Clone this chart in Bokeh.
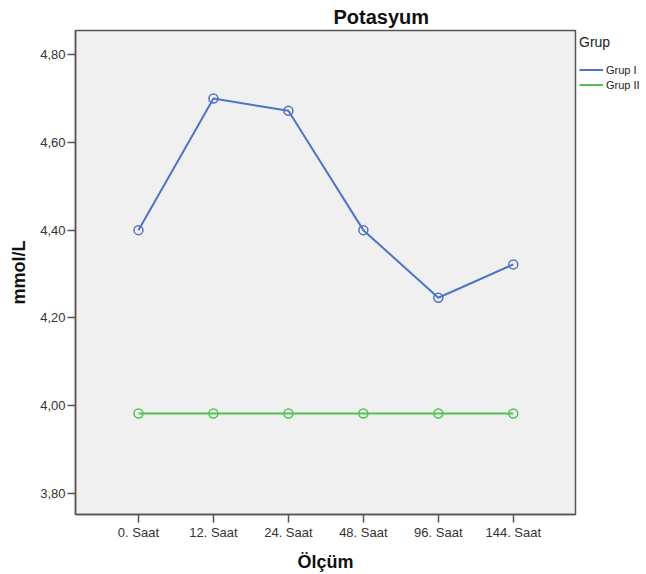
from bokeh.plotting import figure
from bokeh.models import (Range1d, FixedTicker, CustomJSTickFormatter, Legend, LegendItem,
                          ColumnDataSource)
from bokeh.embed import file_html
from bokeh.resources import INLINE

categories = ["0. Saat", "12. Saat", "24. Saat", "48. Saat", "96. Saat", "144. Saat"]
grup1 = [4.40, 4.70, 4.672, 4.40, 4.246, 4.322]
grup2 = [3.982, 3.982, 3.982, 3.982, 3.982, 3.982]
y_ticks = [3.80, 4.00, 4.20, 4.40, 4.60, 4.80]
series_names = ["Grup I", "Grup II"]
colors = ["#4f74c4", "#52c252"]

xs = list(range(len(categories)))
FONT = "Liberation Sans"

p = figure(frame_width=500, frame_height=484, output_backend="svg", toolbar_location=None,
           x_range=Range1d(-0.84, 5.83), y_range=Range1d(3.752, 4.855),
           min_border_left=75, min_border_top=30, min_border_bottom=58, min_border_right=0,
           title="Potasyum")
p.title.align = "left"
p.title.offset = 258
p.title.standoff = 6
p.title.text_font = FONT
p.title.text_font_size = "20px"
p.title.text_font_style = "bold"
p.title.text_color = "#111111"

p.background_fill_color = "#f0f0f0"
p.border_fill_color = "white"
p.outline_line_color = "#555555"
p.outline_line_width = 1.5
p.xgrid.visible = False
p.ygrid.visible = False

# x axis
p.xaxis.ticker = FixedTicker(ticks=xs)
p.xaxis.major_label_overrides = {i: c for i, c in enumerate(categories)}
p.xaxis.minor_tick_line_color = None
p.xaxis.major_tick_out = 8
p.xaxis.major_tick_in = 0
p.xaxis.major_label_standoff = 2
p.xaxis.axis_label = "Ölçüm"
p.xaxis.axis_label_standoff = 9
# y axis
p.yaxis.ticker = FixedTicker(ticks=y_ticks)
p.yaxis.formatter = CustomJSTickFormatter(code="return tick.toFixed(2).replace('.', ',');")
p.yaxis.minor_tick_line_color = None
p.yaxis.major_tick_out = 8
p.yaxis.major_tick_in = 0
p.yaxis.major_label_standoff = 2
p.yaxis.axis_label = "mmol/L"
p.yaxis.axis_label_standoff = 8

for ax in (p.xaxis[0], p.yaxis[0]):
    ax.axis_line_color = "#555555"
    ax.axis_line_width = 1.5
    ax.major_tick_line_color = "#555555"
    ax.major_tick_line_width = 1.5
    ax.major_label_text_font = FONT
    ax.major_label_text_font_size = "13px"
    ax.major_label_text_color = "#333333"
    ax.axis_label_text_font = FONT
    ax.axis_label_text_font_size = "18px"
    ax.axis_label_text_font_style = "bold"
    ax.axis_label_text_color = "#111111"

items = []
for name, vals, col in zip(series_names, [grup1, grup2], colors):
    src = ColumnDataSource(dict(x=xs, y=vals))
    r = p.line("x", "y", source=src, line_color=col, line_width=2)
    p.scatter("x", "y", source=src, marker="circle", size=9, fill_color=None,
              line_color=col, line_width=1.5)
    items.append(LegendItem(label=name, renderers=[r]))

legend = Legend(items=items, title="Grup", location="top_left")
legend.margin = 4
legend.padding = 0
legend.spacing = 0
legend.border_line_color = None
legend.background_fill_color = None
legend.title_text_font = FONT
legend.title_text_font_size = "14px"
legend.title_text_font_style = "normal"
legend.title_text_color = "#222222"
legend.title_standoff = 12
legend.label_text_font = FONT
legend.label_text_font_size = "11px"
legend.label_text_color = "#222222"
legend.glyph_width = 24
legend.label_standoff = 3
legend.label_height = 15
legend.glyph_height = 15
p.add_layout(legend, "right")

open("out.html", "w").write(file_html(p, INLINE))
